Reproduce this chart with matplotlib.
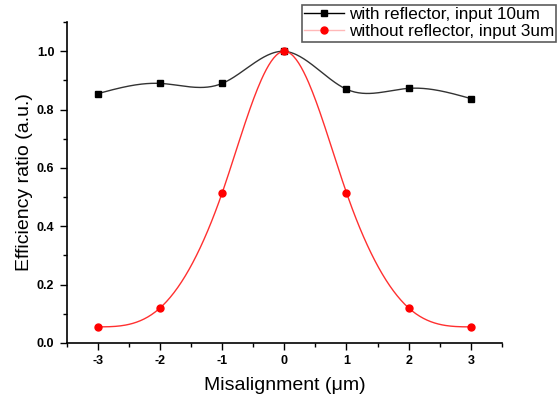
import numpy as np
import matplotlib
matplotlib.use("Agg")
from matplotlib import pyplot as plt
from matplotlib.lines import Line2D

plt.rcParams['font.family'] = ['Liberation Sans', 'DejaVu Sans']

offset = [-3, -2, -1, 0, 1, 2, 3]
with_refl = [0.855, 0.890, 0.890, 1.0, 0.870, 0.873, 0.838]
without_refl = [0.055, 0.120, 0.515, 1.0, 0.515, 0.120, 0.055]


def spline(x, y, n=300):
    # natural cubic spline through the points
    x = np.asarray(x, float)
    y = np.asarray(y, float)
    k = len(x)
    h = np.diff(x)
    A = np.zeros((k, k))
    b = np.zeros(k)
    A[0, 0] = A[-1, -1] = 1
    for i in range(1, k - 1):
        A[i, i - 1] = h[i - 1]
        A[i, i] = 2 * (h[i - 1] + h[i])
        A[i, i + 1] = h[i]
        b[i] = 3 * ((y[i + 1] - y[i]) / h[i] - (y[i] - y[i - 1]) / h[i - 1])
    c = np.linalg.solve(A, b)
    xs = np.linspace(x[0], x[-1], n)
    ys = np.empty_like(xs)
    for j, xv in enumerate(xs):
        i = min(np.searchsorted(x, xv, side='right') - 1, k - 2)
        d = xv - x[i]
        bi = (y[i + 1] - y[i]) / h[i] - h[i] * (2 * c[i] + c[i + 1]) / 3
        di = (c[i + 1] - c[i]) / (3 * h[i])
        ys[j] = y[i] + bi * d + c[i] * d ** 2 + di * d ** 3
    return xs, ys


fig = plt.figure(figsize=(5.57, 4.03), dpi=100)
ax = fig.add_axes([0.120, 0.149, 0.781, 0.796])

xs, ys = spline(offset, with_refl)
ax.plot(xs, ys, color='#333333', lw=1.0)
ax.plot(offset, with_refl, 's', color='black', ms=5)

xs, ys = spline(offset, without_refl)
ax.plot(xs, ys, color='#ff3030', lw=1.0)
ax.plot(offset, without_refl, 'o', color='red', ms=5)

ax.set_xlim(-3.5, 3.5)
ax.set_ylim(0, 1.1)
ax.set_xticks(offset)
ax.set_xticks(np.arange(-3.5, 3.6, 0.5), minor=True)
ax.set_yticks([0.0, 0.2, 0.4, 0.6, 0.8, 1.0])
ax.set_yticks(np.arange(0, 1.11, 0.1), minor=True)
ax.set_xticklabels([str(v) for v in offset])
ax.set_yticklabels(['0.0', '0.2', '0.4', '0.6', '0.8', '1.0'])
ax.tick_params(which='major', direction='out', length=5, width=1, labelsize=9, pad=4)
ax.tick_params(which='minor', direction='out', length=3, width=1)
for lab in ax.get_xticklabels() + ax.get_yticklabels():
    lab.set_fontweight('bold')
for s in ['top', 'right']:
    ax.spines[s].set_visible(False)
for s in ['left', 'bottom']:
    ax.spines[s].set_linewidth(1.2)

ax.set_xlabel('Misalignment (\u03bcm)', fontsize=14, labelpad=7)
ax.set_ylabel('Efficiency ratio (a.u.)', fontsize=14, labelpad=3)

handles = [
    Line2D([], [], color='black', lw=1, marker='s', ms=5),
    Line2D([], [], color='#ffb8b8', lw=1, marker='o', ms=5, mfc='red', mec='red'),
]
leg = fig.legend(handles, ['with reflector, input 10um', 'without reflector, input 3um'],
                 loc='upper right', bbox_to_anchor=(0.999, 0.988), fontsize=12.3,
                 frameon=True, fancybox=False, edgecolor='#333333',
                 borderpad=0.15, labelspacing=0.1, handlelength=2.3,
                 handletextpad=0.3, borderaxespad=0)
leg.get_frame().set_linewidth(1.2)

fig.savefig('out.png', dpi=100)
